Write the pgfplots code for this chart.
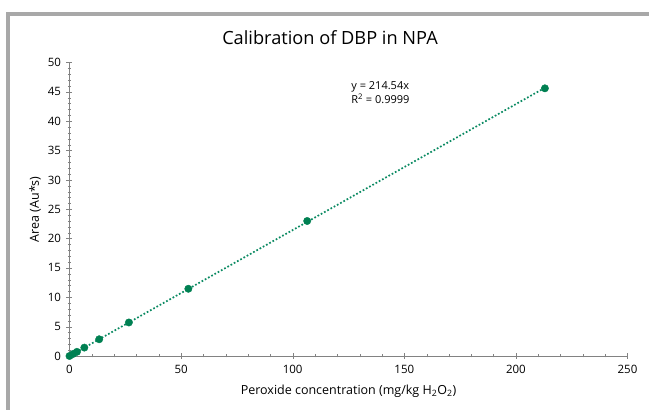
\documentclass[border=0pt]{standalone}
\usepackage{pgfplots}
\pgfplotsset{compat=1.18}
\usepackage{fontspec}
\setmainfont{Open Sans}
\definecolor{mkgreen}{RGB}{0,128,82}
\definecolor{lngreen}{RGB}{10,138,98}
\definecolor{framegray}{RGB}{168,168,168}
\definecolor{axgray}{RGB}{130,130,130}
\begin{document}
\begin{tikzpicture}[x=1pt,y=1pt]
\path[use as bounding box] (0,0) rectangle (649,410);
\fill[white] (0,0) rectangle (649,410);
\draw[framegray, line width=4pt] (8,0) -- (8,396) -- (649,396);
\begin{axis}[
  at={(69.5pt,54pt)}, anchor=south west,
  scale only axis, width=558pt, height=293.5pt,
  xmin=0, xmax=250, ymin=0, ymax=50,
  axis lines=left,
  axis line style={axgray, -},
  xtick={0,50,...,250}, ytick={0,5,...,50},
  minor x tick num=4, minor y tick num=4,
  tick style={axgray},
  major tick length=6pt, minor tick length=3pt,
  tick align=center,
  minor tick style={/pgfplots/tick align=inside},
  tick label style={font=\fontsize{11.5}{13}\selectfont},
  /pgf/number format/assume math mode=true,
  xticklabel style={yshift=-3pt},
  yticklabel style={xshift=-2pt},
  xlabel={Peroxide concentration (mg/kg H\textsubscript{2}O\textsubscript{2})},
  ylabel={Area (Au*s)},
  label style={font=\fontsize{12.5}{14}\selectfont},
  xlabel style={yshift=-4pt},
  ylabel style={yshift=0pt},
  title={Calibration of DBP in NPA},
  title style={font=\fontsize{18.2}{20}\selectfont, yshift=8pt, xshift=-18.5pt},
  clip=false,
]
\addplot[lngreen, line width=1.7pt, dash pattern=on 1.7pt off 2pt, forget plot] coordinates {(0,0) (213,45.7)};
\addplot[only marks, mark=*, mark size=3.7pt, mkgreen, mark options={draw=mkgreen, fill=mkgreen}] coordinates {
 (0,0) (1.66,0.36) (3.33,0.71) (6.65,1.43) (13.3,2.85) (26.6,5.71) (53.25,11.45) (106.5,23.0) (213,45.6)
};
\node[anchor=north west, align=left, font=\fontsize{11}{14}\selectfont, inner sep=0pt] at (axis cs:126.2,46.8) {y = 214.54x\\R\textsuperscript{2} = 0.9999};
\end{axis}
\end{tikzpicture}
\end{document}
